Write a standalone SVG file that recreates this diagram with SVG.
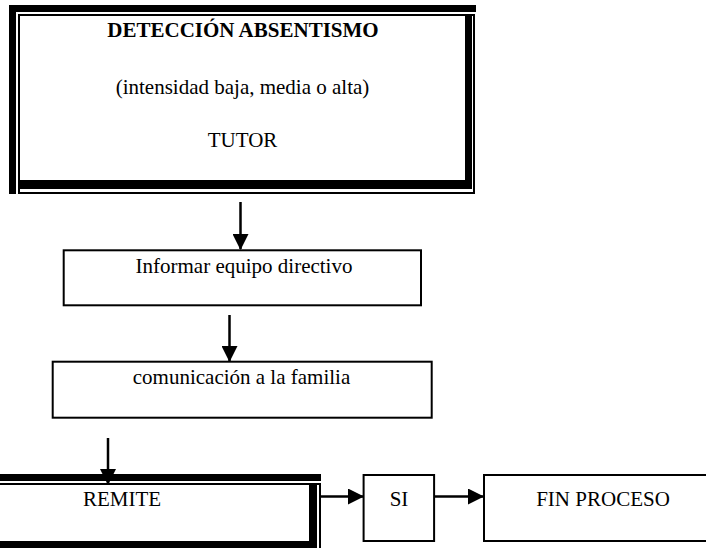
<svg xmlns="http://www.w3.org/2000/svg" width="706" height="548" viewBox="0 0 706 548">
<style>
.t{font-family:"Liberation Serif","Times New Roman",serif;font-size:21px;fill:#000;text-anchor:middle}
.b{font-weight:bold}
.box{fill:#fff;stroke:#000;stroke-width:2}
.blk{fill:#000;stroke:none}
.thin{fill:none;stroke:#000;stroke-width:2}
.con{stroke:#000;stroke-width:2.5;fill:none;marker-end:url(#ah)}
</style>
<defs>
<marker id="ah" markerUnits="userSpaceOnUse" markerWidth="16" markerHeight="16" viewBox="0 0 16 16" refX="15" refY="8" orient="auto">
<path d="M0,0 L16,8 L0,16 Z" fill="#000"/>
</marker>
</defs>
<rect width="706" height="548" fill="#fff"/>
<g id="deteccion">
<rect x="9" y="5" width="467" height="189" fill="#fff"/>
<rect class="blk" x="9" y="5" width="467" height="7"/>
<rect class="blk" x="9" y="5" width="7" height="189"/>
<rect class="thin" x="19" y="15" width="455" height="178"/>
<rect class="blk" x="20" y="180" width="452" height="9"/>
<rect class="blk" x="465" y="16" width="7" height="173"/>
<text class="t b" x="243" y="37">DETECCIÓN ABSENTISMO</text>
<text class="t" x="242.5" y="94">(intensidad baja, media o alta)</text>
<text class="t" x="242.5" y="147">TUTOR</text>
</g>
<g id="informar">
<rect class="box" x="63.7" y="250.3" width="357.3" height="55"/>
<text class="t" x="244" y="273">Informar equipo directivo</text>
</g>
<g id="comunicacion">
<rect class="box" x="52.7" y="361.7" width="379" height="56"/>
<text class="t" x="241.5" y="383.5">comunicación a la familia</text>
</g>
<g id="remite">
<rect x="-20" y="474" width="341" height="90" fill="#fff"/>
<rect class="blk" x="-20" y="474" width="341" height="7"/>
<rect class="thin" x="-20" y="484" width="340" height="70"/>
<rect class="blk" x="309" y="485" width="8" height="63"/>
<rect class="blk" x="-20" y="541" width="337" height="7"/>
<text class="t" x="122" y="506">REMITE</text>
</g>
<g id="si">
<rect class="box" x="363.6" y="475" width="70.5" height="66"/>
<text class="t" x="399" y="506">SI</text>
</g>
<g id="fin">
<rect class="box" x="484" y="475" width="240" height="66"/>
<text class="t" x="603" y="506">FIN PROCESO</text>
</g>
<g id="connectors">
<line class="con" x1="240.5" y1="202" x2="240.5" y2="249"/>
<line class="con" x1="229.5" y1="315" x2="229.5" y2="361"/>
<line class="con" x1="108" y1="438" x2="108" y2="484"/>
<line class="con" x1="321" y1="496.5" x2="363" y2="496.5"/>
<line class="con" x1="435" y1="496.5" x2="483" y2="496.5"/>
</g>
</svg>
